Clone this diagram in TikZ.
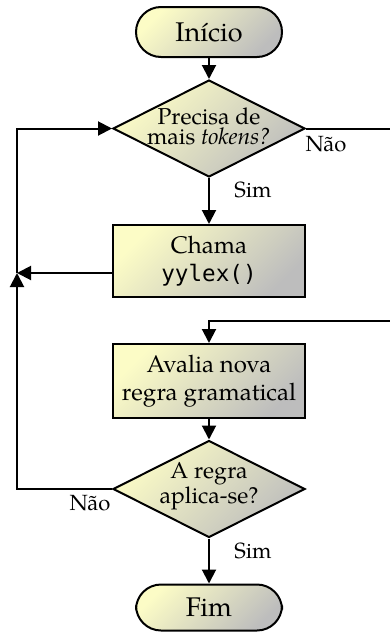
\documentclass[tikz,border=0pt]{standalone}
\usepackage{fontspec}
\setmainfont{TeX Gyre Pagella}
\setmonofont{DejaVu Sans Mono}
\usetikzlibrary{shapes.geometric,arrows.meta}
\definecolor{yelA}{HTML}{FCFCC6}
\definecolor{grayA}{HTML}{BDBDBD}
\tikzset{
  gradfill/.style={top color=yelA, bottom color=grayA, shading angle=45},
  term/.style={draw, line width=1pt, gradfill, rectangle, rounded corners=12.5pt,
    minimum width=73pt, minimum height=25pt, inner sep=0pt,
    font=\fontsize{13.5}{15}\selectfont},
  procbox/.style={draw, line width=1pt, gradfill, rectangle,
    minimum width=96pt, minimum height=36pt, inner sep=0pt, align=center,
    font=\fontsize{12}{13.8}\selectfont},
  decbox/.style={draw, line width=1pt, gradfill, diamond,
    minimum width=96pt, minimum height=48.5pt, inner sep=0pt},
  dectext/.style={align=center, inner sep=0pt, font=\fontsize{11.5}{10}\selectfont},
  lbl/.style={inner sep=0pt, font=\fontsize{11}{12}\selectfont},
  conn/.style={line width=1pt, -{Triangle[length=7pt,width=7pt]}},
  plainline/.style={line width=1pt},
}
\begin{document}
\begin{tikzpicture}[x=0.5pt,y=-0.5pt]
\useasboundingbox (0,0) rectangle (390,632);
\node[term] (ini) at (209,32) {Início};
\node[decbox] (d1) at (209,128.5) {};
\node[dectext] (d1t) at (209,126) {Precisa de\\mais \textit{tokens?}};
\node[procbox] (chama) at (209,261) {Chama\\\texttt{\fontsize{11.3}{13.8}\selectfont yylex()}};
\node[procbox, minimum height=37pt] (aval) at (209,381) {Avalia nova\\regra gramatical};
\node[decbox] (d2) at (209,489) {};
\node[dectext] (d2t) at (209,486) {A regra\\aplica-se?};
\node[term, minimum height=23pt] (fim) at (209,607.5) {Fim};

\node[lbl] (nao1) at (326,144) {Não};
\node[lbl] (sim1) at (253,190) {Sim};
\node[lbl] (nao2) at (90,503) {Não};
\node[lbl] (sim2) at (253,551) {Sim};

\coordinate (J) at (17,273);
\coordinate (L1) at (17,128.5);
\coordinate (L2) at (17,489);
\coordinate (R1) at (390,128.5);
\coordinate (R2) at (390,321);
\coordinate (C2) at (209,321);

\draw[conn] (ini) -- (d1);
\draw[conn] (d1) -- (chama);
\draw[plainline] (d1.east) -- (R1);
\draw[conn] (J) -- (L1) -- (d1.west);
\draw[conn] (chama.west |- J) -- (J);
\draw[conn] (d2.west) -- (L2) -- (J);
\draw[conn] (R2) -- (C2) -- (aval);
\draw[conn] (aval) -- (d2);
\draw[conn] (d2) -- (fim);
\end{tikzpicture}
\end{document}
